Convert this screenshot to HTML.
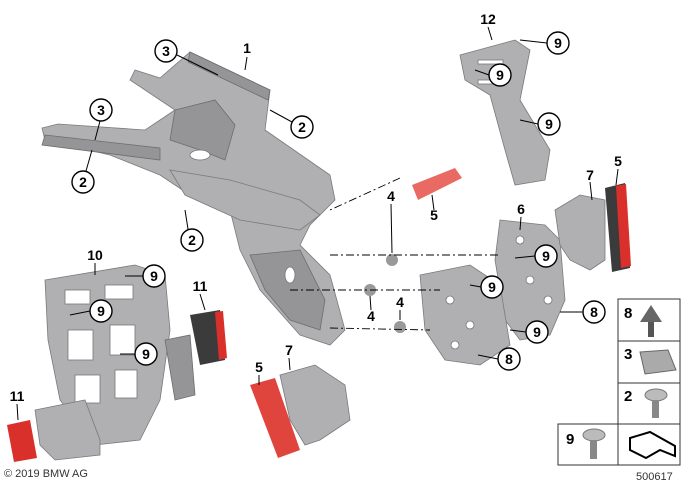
<!DOCTYPE html>
<html><head><style>
html,body{margin:0;padding:0;background:#fff;}
svg{display:block;font-family:"Liberation Sans",Arial,sans-serif;}
.c{fill:#fff;stroke:#000;stroke-width:1.4}
.t{font-weight:bold;font-size:14px;text-anchor:middle}
.g{fill:#b0b0b2;stroke:#7a7a7c;stroke-width:0.8}
.d{fill:#959597;stroke:#6d6d6f;stroke-width:0.8}
.h{fill:#fff;stroke:#777;stroke-width:0.8}
.l{stroke:#000;stroke-width:1;fill:none}
.dash{stroke:#000;stroke-width:0.9;stroke-dasharray:8 3 2 3;fill:none}
</style></head><body>
<svg width="686" height="484" viewBox="0 0 686 484">
<!-- main bracket -->
<polygon class="g" points="190,52 270,90 265,130 330,175 335,200 310,225 300,245 330,275 345,330 330,345 300,335 260,290 240,250 230,210 190,195 160,175 110,155 45,140 42,128 58,124 145,130 160,120 175,110 130,80 135,70 160,78"/>
<polygon class="d" points="175,110 215,100 235,125 225,160 200,150 170,140"/>
<polygon class="d" points="45,135 160,148 160,160 42,145"/>
<polygon class="d" points="190,52 270,90 268,100 188,62"/>
<polygon class="d" points="250,255 300,250 325,300 320,330 290,320 265,290"/>
<polygon class="g" points="170,170 230,180 300,200 320,215 300,230 240,220 185,195"/>
<ellipse class="h" cx="200" cy="155" rx="10" ry="5"/>
<ellipse class="h" cx="290" cy="275" rx="5" ry="8"/>
<!-- bracket 12 -->
<polygon class="g" points="460,55 515,40 530,50 520,100 550,150 545,180 515,185 505,150 490,95 465,80"/>
<rect class="h" x="478" y="60" width="25" height="4"/>
<rect class="h" x="478" y="80" width="25" height="4"/>
<!-- plates 6 -->
<polygon class="g" points="500,220 545,225 560,240 565,300 550,335 520,340 505,320 495,260"/>
<polygon class="g" points="420,275 470,265 500,285 510,345 480,365 445,360 425,330"/>
<circle class="h" cx="520" cy="240" r="4"/><circle class="h" cx="530" cy="280" r="4"/><circle class="h" cx="548" cy="300" r="4"/>
<circle class="h" cx="450" cy="300" r="4"/><circle class="h" cx="470" cy="325" r="4"/><circle class="h" cx="455" cy="345" r="4"/>
<!-- 7 right -->
<polygon class="g" points="555,210 580,195 605,200 605,260 590,270 570,260 560,245"/>
<polygon fill="#3b3b3b" points="605,188 625,183 630,268 612,272"/>
<polygon fill="#d9302b" points="616,186 626,184 631,266 621,268"/>
<!-- red strip 5 top -->
<polygon fill="#e86a63" points="412,185 455,168 462,178 418,200"/>
<!-- plate 10 -->
<polygon class="g" points="45,280 135,265 165,275 170,330 160,400 140,440 95,445 60,400 48,340"/>
<rect class="h" x="65" y="290" width="25" height="14"/><rect class="h" x="105" y="285" width="28" height="14"/>
<rect class="h" x="68" y="330" width="25" height="30"/><rect class="h" x="110" y="325" width="25" height="30"/>
<rect class="h" x="75" y="375" width="25" height="28"/><rect class="h" x="115" y="370" width="22" height="28"/>
<polygon class="d" points="165,340 190,335 195,395 175,400"/>
<polygon class="g" points="35,410 85,400 100,440 100,455 55,460 40,445"/>
<!-- 11 -->
<polygon fill="#3b3b3b" points="190,315 220,310 225,360 200,365"/>
<polygon fill="#d9302b" points="215,312 223,311 227,358 219,360"/>
<polygon fill="#d9302b" points="7,425 30,420 37,458 14,462"/>
<!-- 5/7 bottom -->
<polygon fill="#e0453d" points="250,385 275,378 300,450 278,458"/>
<polygon class="g" points="280,375 315,365 345,385 350,420 320,440 305,445 290,420"/>
<!-- nuts 4 -->
<circle cx="392" cy="260" r="6" fill="#999"/><circle cx="370" cy="290" r="6" fill="#999"/><circle cx="400" cy="327" r="6" fill="#999"/>
<!-- dash lines -->
<path class="dash" d="M330,255 L500,255 M290,290 L440,290 M330,328 L430,330 M400,178 L330,210"/>
<!-- leader lines -->
<path class="l" d="M247,57 L245,70 M177,55 L218,75 M100,121 L95,140 M292,122 L270,110 M86,171 L92,150 M188,229 L185,210 M488,27 L492,40 M547,43 L520,40 M489,75 L475,70 M538,124 L520,120 M618,169 L616,185 M590,182 L592,200 M434,210 L432,195 M521,217 L520,230 M535,256 L515,258 M481,287 L470,285 M526,332 L510,330 M583,312 L560,312 M498,359 L478,355 M95,263 L95,275 M143,276 L125,276 M90,311 L70,315 M135,354 L120,354 M200,294 L205,310 M17,404 L18,420 M259,375 L259,385 M289,358 L290,370 M391,204 L392,253 M371,310 L370,296 M400,310 L400,320"/>
<!-- circles -->
<g>
<circle class="c" cx="166" cy="51" r="11"/><text class="t" x="166" y="56">3</text>
<circle class="c" cx="101" cy="110" r="11"/><text class="t" x="101" y="115">3</text>
<circle class="c" cx="302" cy="127" r="11"/><text class="t" x="302" y="132">2</text>
<circle class="c" cx="83" cy="182" r="11"/><text class="t" x="83" y="187">2</text>
<circle class="c" cx="192" cy="240" r="11"/><text class="t" x="192" y="245">2</text>
<circle class="c" cx="558" cy="43" r="11"/><text class="t" x="558" y="48">9</text>
<circle class="c" cx="500" cy="75" r="11"/><text class="t" x="500" y="80">9</text>
<circle class="c" cx="549" cy="124" r="11"/><text class="t" x="549" y="129">9</text>
<circle class="c" cx="546" cy="256" r="11"/><text class="t" x="546" y="261">9</text>
<circle class="c" cx="492" cy="287" r="11"/><text class="t" x="492" y="292">9</text>
<circle class="c" cx="537" cy="332" r="11"/><text class="t" x="537" y="337">9</text>
<circle class="c" cx="594" cy="312" r="11"/><text class="t" x="594" y="317">8</text>
<circle class="c" cx="509" cy="359" r="11"/><text class="t" x="509" y="364">8</text>
<circle class="c" cx="154" cy="276" r="11"/><text class="t" x="154" y="281">9</text>
<circle class="c" cx="101" cy="311" r="11"/><text class="t" x="101" y="316">9</text>
<circle class="c" cx="146" cy="354" r="11"/><text class="t" x="146" y="359">9</text>
</g>
<g class="t">
<text x="247" y="53">1</text><text x="488" y="24">12</text><text x="618" y="166">5</text><text x="590" y="180">7</text>
<text x="434" y="220">5</text><text x="521" y="214">6</text><text x="391" y="201">4</text><text x="371" y="321">4</text>
<text x="400" y="307">4</text><text x="95" y="260">10</text><text x="200" y="291">11</text><text x="17" y="401">11</text>
<text x="259" y="372">5</text><text x="289" y="355">7</text>
</g>
<!-- parts table -->
<g fill="none" stroke="#333" stroke-width="1">
<rect x="618" y="299" width="62" height="166"/>
<path d="M618,341 H680 M618,383 H680 M618,424 H680"/>
<rect x="558" y="424" width="60" height="41"/>
</g>
<g font-weight="bold" font-size="15">
<text x="624" y="318">8</text><text x="624" y="359">3</text><text x="624" y="401">2</text><text x="566" y="444">9</text>
</g>
<polygon fill="#666" points="651,305 662,322 640,322"/><rect x="648" y="322" width="6" height="15" fill="#555"/>
<polygon fill="#aaa" stroke="#666" points="640,352 668,350 676,370 645,374"/>
<ellipse cx="656" cy="395" rx="11" ry="6" fill="#bbb" stroke="#777"/><rect x="652" y="400" width="7" height="18" fill="#888"/>
<ellipse cx="594" cy="435" rx="11" ry="6" fill="#bbb" stroke="#777"/><rect x="590" y="440" width="7" height="19" fill="#888"/>
<path d="M630,438 L630,450 L646,458 L660,450 L675,456 L675,446 L650,432 Z" fill="none" stroke="#000" stroke-width="2"/>
<text x="636" y="480" font-size="11" fill="#333">500617</text>
<text x="4" y="477" font-size="11" fill="#333">© 2019 BMW AG</text>
</svg>
</body></html>
